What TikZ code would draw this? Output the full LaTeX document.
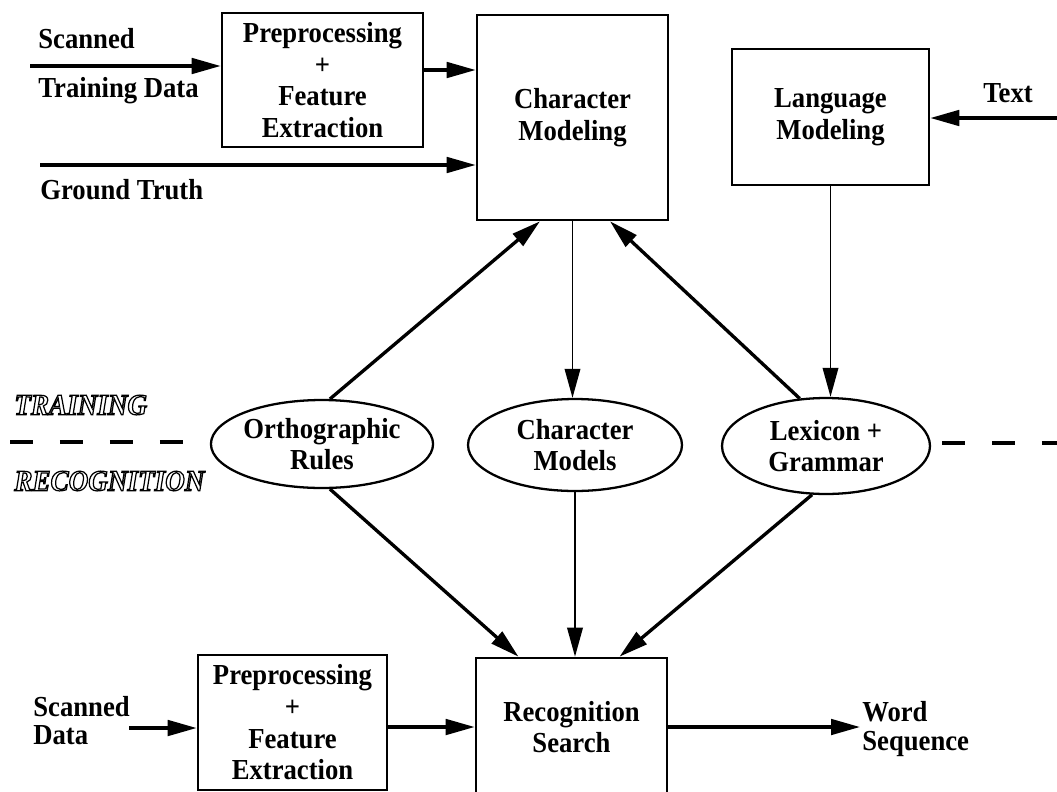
\documentclass[tikz,border=0pt]{standalone}
\usepackage{fontspec}
\setmainfont{Liberation Serif}[FakeStretch=0.92]
\usetikzlibrary{arrows.meta, positioning, shapes.geometric}
\newcommand{\hollowtext}[1]{\special{pdf:literal direct 0.7 w 1 Tr}#1\special{pdf:literal direct 0 Tr}}

\begin{document}
\begin{tikzpicture}[x=0.02cm, y=-0.02cm, >={Triangle[length=5.8mm, width=3.1mm]},
  font=\fontsize{16.5}{18}\selectfont\bfseries,
  box/.style={draw, line width=1.5pt, align=center, inner sep=0pt},
  oval/.style={draw, ellipse, line width=1.3pt, align=center, inner sep=0pt},
  lbl/.style={anchor=west, align=left, inner sep=0pt},
  phase/.style={lbl, font=\fontsize{16.8}{18}\selectfont\bfseries\itshape},
  flow/.style={->, line width=1.9pt},
  feed/.style={->, line width=1.1pt},
  sep/.style={line width=2pt, dash pattern=on 0.46cm off 0.54cm}]
\useasboundingbox (0,0) rectangle (1057,791);
\clip (0,0) rectangle (1057,791);
% training part
\node[box, minimum width=4.02cm, minimum height=2.68cm] (prepT) at (322.5,80) {Preprocessing\\+\\Feature\\Extraction};
\node[box, minimum width=3.82cm, minimum height=4.1cm] (charmod) at (572.5,117.5) {Character\\Modeling};
\node[box, minimum width=3.94cm, minimum height=2.72cm] (langmod) at (830.5,117) {Language\\Modeling};
\node[oval, minimum width=4.38cm, minimum height=1.76cm] (ortho) at (322,444) {Orthographic\\Rules};
\node[oval, minimum width=4.28cm, minimum height=1.84cm] (charmods) at (575,445) {Character\\Models};
\node[oval, minimum width=4.16cm, minimum height=1.92cm] (lexicon) at (826,446) {Lexicon +\\Grammar};
% recognition part
\node[box, minimum width=3.78cm, minimum height=2.7cm] (prepB) at (292.5,722.5) {Preprocessing\\+\\Feature\\Extraction};
\node[box, minimum width=3.82cm, minimum height=2.76cm] (recog) at (571.5,727) {Recognition\\Search};
% inputs and outputs
\node[lbl] (scanT) at (38,39) {Scanned};
\node[lbl] (trainT) at (38,91) {Training Data};
\node[lbl] (gtT) at (40,190) {Ground Truth};
\node (textT) at (1008,93) {Text};
\node[lbl] (scanB) at (33,721) {Scanned\\[-2pt]Data};
\node[lbl] (wordB) at (862,729) {Word\\[-2pt]Sequence};
\coordinate (inT) at (30,66);
\coordinate (gtS) at (40,165);
\coordinate (textS) at (1057,118);
\coordinate (inB) at (129,728);
\coordinate (outB) at (860,727);
\coordinate (sepL1) at (10,442);
\coordinate (sepL2) at (185,442);
\coordinate (sepR1) at (942,443);
\coordinate (sepR2) at (1057,443);

\draw[flow] (inT) -- (inT -| prepT.west);
\draw[flow] ([yshift=0.2cm]prepT.east) -- ([yshift=0.2cm]prepT.east -| charmod.west);
\draw[flow] (gtS) -- (gtS -| charmod.west);
\draw[flow] (textS) -- (textS -| langmod.east);
\draw[flow] (ortho.80) -- ([xshift=-0.65cm]charmod.south);
\draw[flow] (lexicon.119) -- ([xshift=0.75cm]charmod.south);
\draw[feed] (charmod.south) -- (charmod.south |- charmods.north);
\draw[feed] (langmod.south) -- (langmod.south |- lexicon.north);
\draw[flow] (ortho.280) -- ([xshift=-1.06cm]recog.north);
\draw[feed] (charmods.south) -- (charmods.south |- recog.north);
\draw[flow] (lexicon.254) -- ([xshift=0.96cm]recog.north);
\draw[flow] (inB) -- (inB -| prepB.west);
\draw[flow] (prepB.east |- recog.west) -- (recog.west);
\draw[flow] (recog.east) -- (outB);
\draw[sep] (sepL1) -- (sepL2);
\draw[sep] (sepR1) -- (sepR2);
% phase labels
\node[phase] (trainL) at (14,405) {\hollowtext{TRAINING}};
\node[phase] (recogL) at (14,481) {\hollowtext{RECOGNITION}};
\end{tikzpicture}
\end{document}
